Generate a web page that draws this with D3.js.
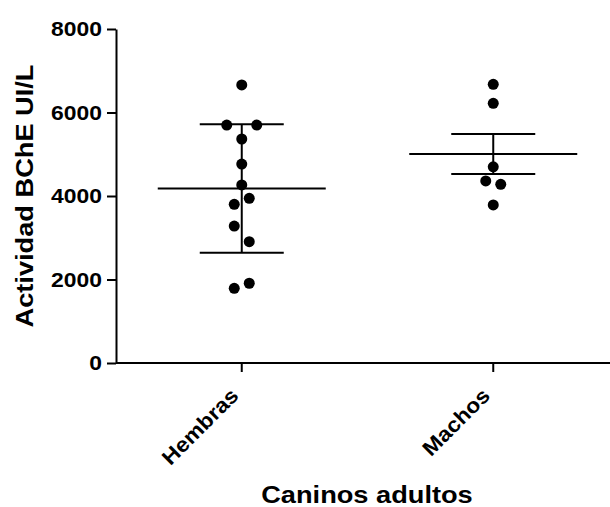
<!DOCTYPE html>
<html>
<head>
<meta charset="utf-8">
<script src="https://cdn.jsdelivr.net/npm/d3@7"></script>
<style>
  html, body { margin: 0; padding: 0; background: #fff; }
  svg { display: block; }
  text { font-family: "Liberation Sans", Arial, sans-serif; font-weight: bold; fill: #000; }
</style>
</head>
<body>
<svg id="chart" width="610" height="507"></svg>
<script>
// ---- Data ----
const categories = ["Hembras", "Machos"];
const hembrasValues = [6660, 5700, 5700, 5365, 4765, 4265, 3945, 3800, 3280, 2905, 1910, 1790];
const machosValues = [6675, 6220, 4700, 4360, 4280, 3785];
const groupMeans = [4180, 5005];
const groupErrors = [1537, 479];
const yTicks = [0, 2000, 4000, 6000, 8000];
const yTitle = "Actividad BChE UI/L";
const xTitle = "Caninos adultos";

const seriesValues = [hembrasValues, machosValues];

const svg = d3.select("#chart");
const plotLeft = 116, plotRight = 610, plotTop = 29, plotBottom = 363;

const y = d3.scaleLinear().domain([0, 8000]).range([plotBottom, plotTop]);
const x = d3.scaleBand().domain(categories).range([plotLeft, plotLeft + 503]).padding(0);
const cx = c => x(c) + x.bandwidth() / 2;

// ---- Axes ----
const yAxis = d3.axisLeft(y).tickValues(yTicks).tickFormat(d3.format("d"))
  .tickSize(9).tickSizeOuter(0).tickPadding(5);
const gy = svg.append("g").attr("transform", `translate(${plotLeft},0)`).call(yAxis);
gy.select(".domain").attr("stroke", "#000").attr("stroke-width", 2);
gy.selectAll(".tick line").attr("stroke", "#000").attr("stroke-width", 2);
gy.selectAll(".tick text").attr("font-size", 21).attr("font-family", null).classed("stretch1", true);

// x axis line
svg.append("line")
  .attr("x1", plotLeft).attr("x2", plotRight).attr("y1", plotBottom).attr("y2", plotBottom)
  .attr("stroke", "#000").attr("stroke-width", 2);

const xAxis = d3.axisBottom(x).tickSize(9).tickSizeOuter(0).tickPadding(0);
const gx = svg.append("g").attr("transform", `translate(0,${plotBottom})`).call(xAxis);
gx.select(".domain").remove();
gx.selectAll(".tick line").attr("stroke", "#000").attr("stroke-width", 2);
gx.selectAll(".tick text")
  .attr("font-size", 21).attr("font-family", null)
  .attr("text-anchor", "end")
  .attr("y", 0).attr("dy", 0)
  .attr("transform", "translate(-2,34) rotate(-45)")
  .classed("stretch1", true);

// ---- Titles ----
svg.append("text")
  .attr("x", 367).attr("y", 503)
  .attr("text-anchor", "middle").attr("font-size", 24.5)
  .classed("stretch2", true)
  .text(xTitle);

svg.append("text")
  .attr("transform", `translate(33,${(plotTop + plotBottom) / 2}) rotate(-90)`)
  .attr("text-anchor", "middle").attr("font-size", 24.5)
  .classed("stretch2", true)
  .text(yTitle);

// ---- Mean & error bars ----
categories.forEach((c, i) => {
  const xc = cx(c);
  const m = groupMeans[i], e = groupErrors[i];
  const g = svg.append("g").attr("stroke", "#000").attr("stroke-width", 2);
  g.append("line").attr("x1", xc - 84).attr("x2", xc + 84).attr("y1", y(m)).attr("y2", y(m));
  g.append("line").attr("x1", xc).attr("x2", xc).attr("y1", y(m + e)).attr("y2", y(m - e));
  g.append("line").attr("x1", xc - 42).attr("x2", xc + 42).attr("y1", y(m + e)).attr("y2", y(m + e));
  g.append("line").attr("x1", xc - 42).attr("x2", xc + 42).attr("y1", y(m - e)).attr("y2", y(m - e));
});

// ---- Scatter points with simple symmetric de-overlap ----
function layoutOffsets(vals) {
  const pts = vals.map(v => ({ v, py: y(v), off: 0, paired: false }));
  const sorted = pts.slice().sort((a, b) => a.py - b.py);
  const gaps = [];
  for (let k = 0; k < sorted.length - 1; k++) gaps.push({ k, g: sorted[k + 1].py - sorted[k].py });
  gaps.sort((a, b) => a.g - b.g);
  const pairs = [];
  gaps.forEach(({ k, g }) => {
    if (g < 16 && !sorted[k].paired && !sorted[k + 1].paired) {
      sorted[k].paired = sorted[k + 1].paired = true;
      pairs.push({ a: sorted[k], b: sorted[k + 1], g });
    }
  });
  pairs.sort((p, q) => p.a.py - q.a.py);
  pairs.forEach((p, idx) => {
    const half = p.g < 2 ? 15 : 7.5;
    const s = idx % 2 === 0 ? -1 : 1; // side of the higher point
    p.a.off = s * half;
    p.b.off = -s * half;
  });
  return pts;
}

categories.forEach((c, i) => {
  const pts = layoutOffsets(seriesValues[i]);
  svg.append("g").selectAll("circle").data(pts).join("circle")
    .attr("cx", d => cx(c) + d.off)
    .attr("cy", d => d.py)
    .attr("r", 5.5)
    .attr("fill", "#000");
});

// ---- Emulate horizontally stretched typeface ----
svg.selectAll("text.stretch1").each(function () {
  const l = this.getComputedTextLength();
  d3.select(this).attr("textLength", l * 1.09).attr("lengthAdjust", "spacingAndGlyphs");
});
svg.selectAll("text.stretch2").each(function () {
  const l = this.getComputedTextLength();
  d3.select(this).attr("textLength", l * 1.11).attr("lengthAdjust", "spacingAndGlyphs");
});
</script>
</body>
</html>
